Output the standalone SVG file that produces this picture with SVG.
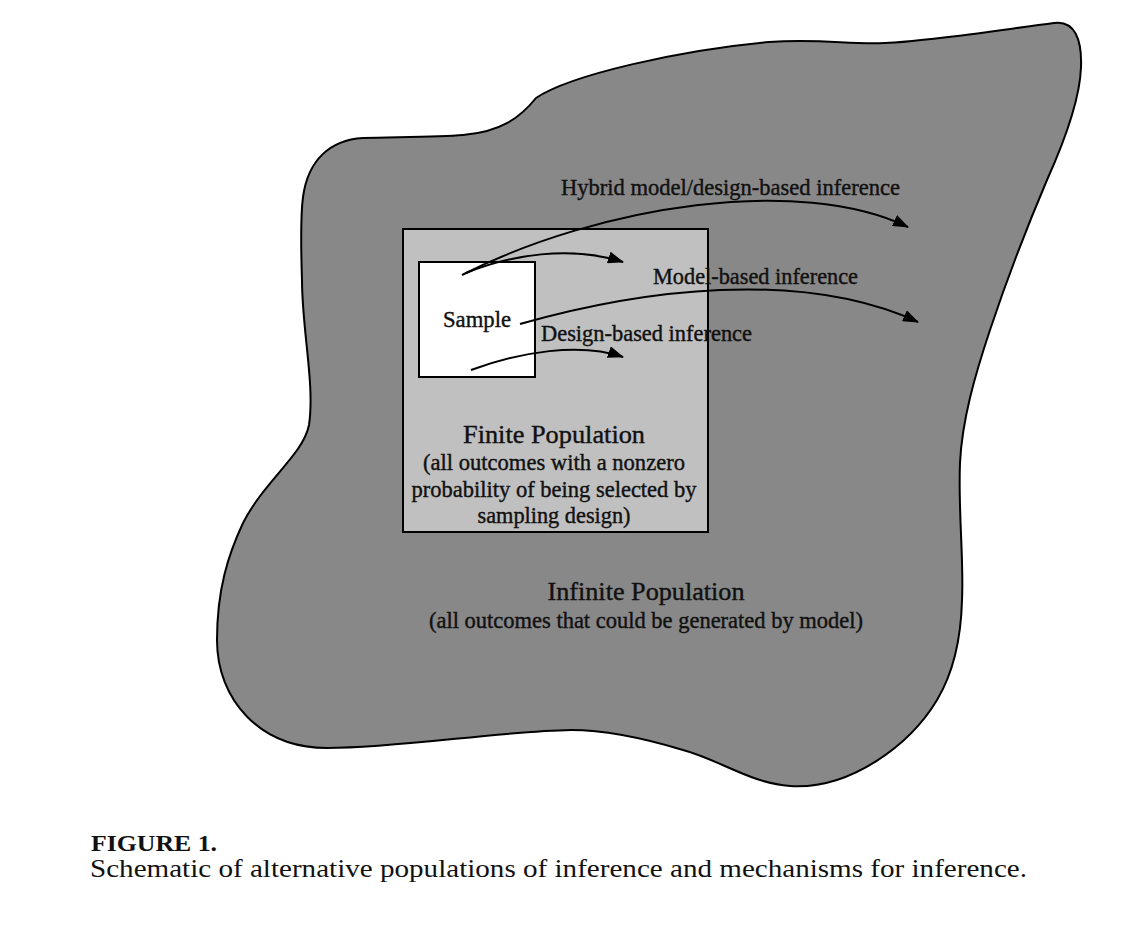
<svg xmlns="http://www.w3.org/2000/svg" width="1121" height="929" viewBox="0 0 1121 929">
<style>
.t{font-family:"Liberation Serif","Times New Roman",serif;fill:#111;}
.d{stroke:#111;stroke-width:0.4;}
.lbl{font-size:22.5px;}
.ttl{font-size:26px;}
.conn{fill:none;stroke:#000;stroke-width:2;}
</style>
<defs>
<marker id="ah" markerUnits="userSpaceOnUse" markerWidth="16" markerHeight="12" refX="15" refY="6" orient="auto">
<path d="M0,0 L16,6 L0,12 z" fill="#000"/>
</marker>
</defs>
<rect x="0" y="0" width="1121" height="929" fill="#fff"/>
<g id="infinite-population">
<path d="M536,98 C570,75 680,50 769,42 C820,38 850,45 885,43 C930,41 1000,30 1054,23 C1075,20 1082,40 1081,67 C1080,100 1065,140 1047,180 C1030,220 1005,285 990,330 C975,375 962,420 960,463 C958,510 964,560 962,600 C961,640 952,675 937,700 C910,745 850,790 790,786 C750,783 720,760 683,750 C650,740 610,730 571,730 C500,731 400,748 327,748 C260,748 217,700 217,640 C217,590 228,555 243,523 C265,480 303,455 309,425 C315,385 302,330 302,280 C301,250 300,220 303,197 C308,160 330,140 363,138 C400,137 440,137 463,135 C500,132 520,118 536,98 Z" fill="#888888" stroke="#000" stroke-width="2"/>
<text class="t d ttl" x="646" y="600" text-anchor="middle" textLength="197" lengthAdjust="spacingAndGlyphs">Infinite Population</text>
<text class="t d lbl" x="646" y="628" text-anchor="middle" textLength="434" lengthAdjust="spacingAndGlyphs">(all outcomes that could be generated by model)</text>
</g>
<g id="finite-population">
<rect x="403" y="229" width="305" height="303" fill="#c0c0c0" stroke="#000" stroke-width="2"/>
<text class="t d ttl" x="554" y="443" text-anchor="middle" textLength="182" lengthAdjust="spacingAndGlyphs">Finite Population</text>
<text class="t d lbl" x="554" y="470" text-anchor="middle" textLength="262" lengthAdjust="spacingAndGlyphs">(all outcomes with a nonzero</text>
<text class="t d lbl" x="554" y="497" text-anchor="middle" textLength="285" lengthAdjust="spacingAndGlyphs">probability of being selected by</text>
<text class="t d lbl" x="554" y="523" text-anchor="middle" textLength="153" lengthAdjust="spacingAndGlyphs">sampling design)</text>
</g>
<g id="sample">
<rect x="419" y="262" width="116" height="115" fill="#fff" stroke="#000" stroke-width="2"/>
<text class="t d lbl" x="443" y="327" textLength="68" lengthAdjust="spacingAndGlyphs">Sample</text>
</g>
<g id="connectors">
<path class="conn" d="M462,275 C600,205 800,175 908,227" marker-end="url(#ah)"/>
<path class="conn" d="M466,273 C510,255 570,245 623,262" marker-end="url(#ah)"/>
<path class="conn" d="M520,324 C640,290 800,268 918,322" marker-end="url(#ah)"/>
<path class="conn" d="M471,370 C520,352 580,342 623,357" marker-end="url(#ah)"/>
</g>
<g id="labels">
<text class="t d lbl" x="561" y="195" textLength="339" lengthAdjust="spacingAndGlyphs">Hybrid model/design-based inference</text>
<text class="t d lbl" x="653" y="284" textLength="205" lengthAdjust="spacingAndGlyphs">Model-based inference</text>
<text class="t d lbl" x="541" y="341" textLength="211" lengthAdjust="spacingAndGlyphs">Design-based inference</text>
</g>
<g id="caption">
<text class="t" x="91" y="851" font-size="24" font-weight="bold" textLength="126" lengthAdjust="spacingAndGlyphs">FIGURE 1.</text>
<text class="t" x="90" y="877" font-size="26" textLength="937" lengthAdjust="spacingAndGlyphs">Schematic of alternative populations of inference and mechanisms for inference.</text>
</g>
</svg>
